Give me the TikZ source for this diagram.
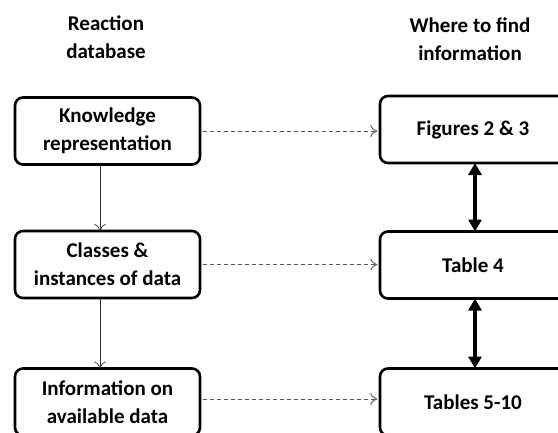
\documentclass[tikz,border=0pt]{standalone}
\usepackage{fontspec}
\setmainfont{Carlito}
\usetikzlibrary{arrows.meta,calc}
\begin{document}
\begin{tikzpicture}[x=1pt,y=-1pt,
  box/.style={draw=black,line width=2.6pt,rounded corners=8pt,fill=white,
    minimum width=185pt,minimum height=67pt,inner sep=0pt,
    font=\fontsize{21}{28}\selectfont\bfseries,align=center},
  hdr/.style={font=\fontsize{21}{28}\selectfont\bfseries,align=center},
  thinarrow/.style={draw=black!80,line width=0.7pt,-{To[length=7pt,width=12pt]}},
  dasharrow/.style={draw=black!65,line width=0.9pt,dash pattern=on 4pt off 3pt,-{To[length=7pt,width=12pt]}},
  boldarrow/.style={line width=3.8pt,{Triangle[length=12pt,width=13pt]}-{Triangle[length=12pt,width=13pt]}}]
\useasboundingbox (0,0) rectangle (558,432);
\clip (0,0) rectangle (558,432);
\node[hdr] (h1) at (106,37) {Reaction\\database};
\node[hdr] (h2) at (470,39) {Where to find\\information};
\node[box] (k) at (107.5,131) {Knowledge\\representation};
\node[box] (c) at (107.5,264.5) {Classes \&\\instances of data};
\node[box] (i) at (107.5,402) {Information on\\available data};
\node[box,minimum width=186pt] (f) at (473,129.5) {Figures 2 \& 3};
\node[box,minimum width=186pt] (t4) at (473,265) {Table 4};
\node[box,minimum width=186pt] (t5) at (473,402) {Tables 5-10};
\coordinate (xa) at (100,0);
\coordinate (xb) at (475,0);
\draw[thinarrow] ([yshift=1.3pt]k.south -| xa) -- ([yshift=-1.3pt]c.north -| xa);
\draw[thinarrow] ([yshift=1.3pt]c.south -| xa) -- ([yshift=-1.3pt]i.north -| xa);
\draw[dasharrow] ([xshift=1.3pt]k.east) -- ([xshift=-1.3pt]k.east -| f.west);
\draw[dasharrow] ([xshift=1.3pt]c.east) -- ([xshift=-1.3pt]c.east -| t4.west);
\draw[dasharrow] ([xshift=1.3pt,yshift=3pt]i.east) -- ([xshift=-1.3pt,yshift=3pt]i.east -| t5.west);
\draw[boldarrow] ([yshift=1.3pt]f.south -| xb) -- ([yshift=-1.3pt]t4.north -| xb);
\draw[boldarrow] ([yshift=1.3pt]t4.south -| xb) -- ([yshift=-1.3pt]t5.north -| xb);
\end{tikzpicture}
\end{document}
